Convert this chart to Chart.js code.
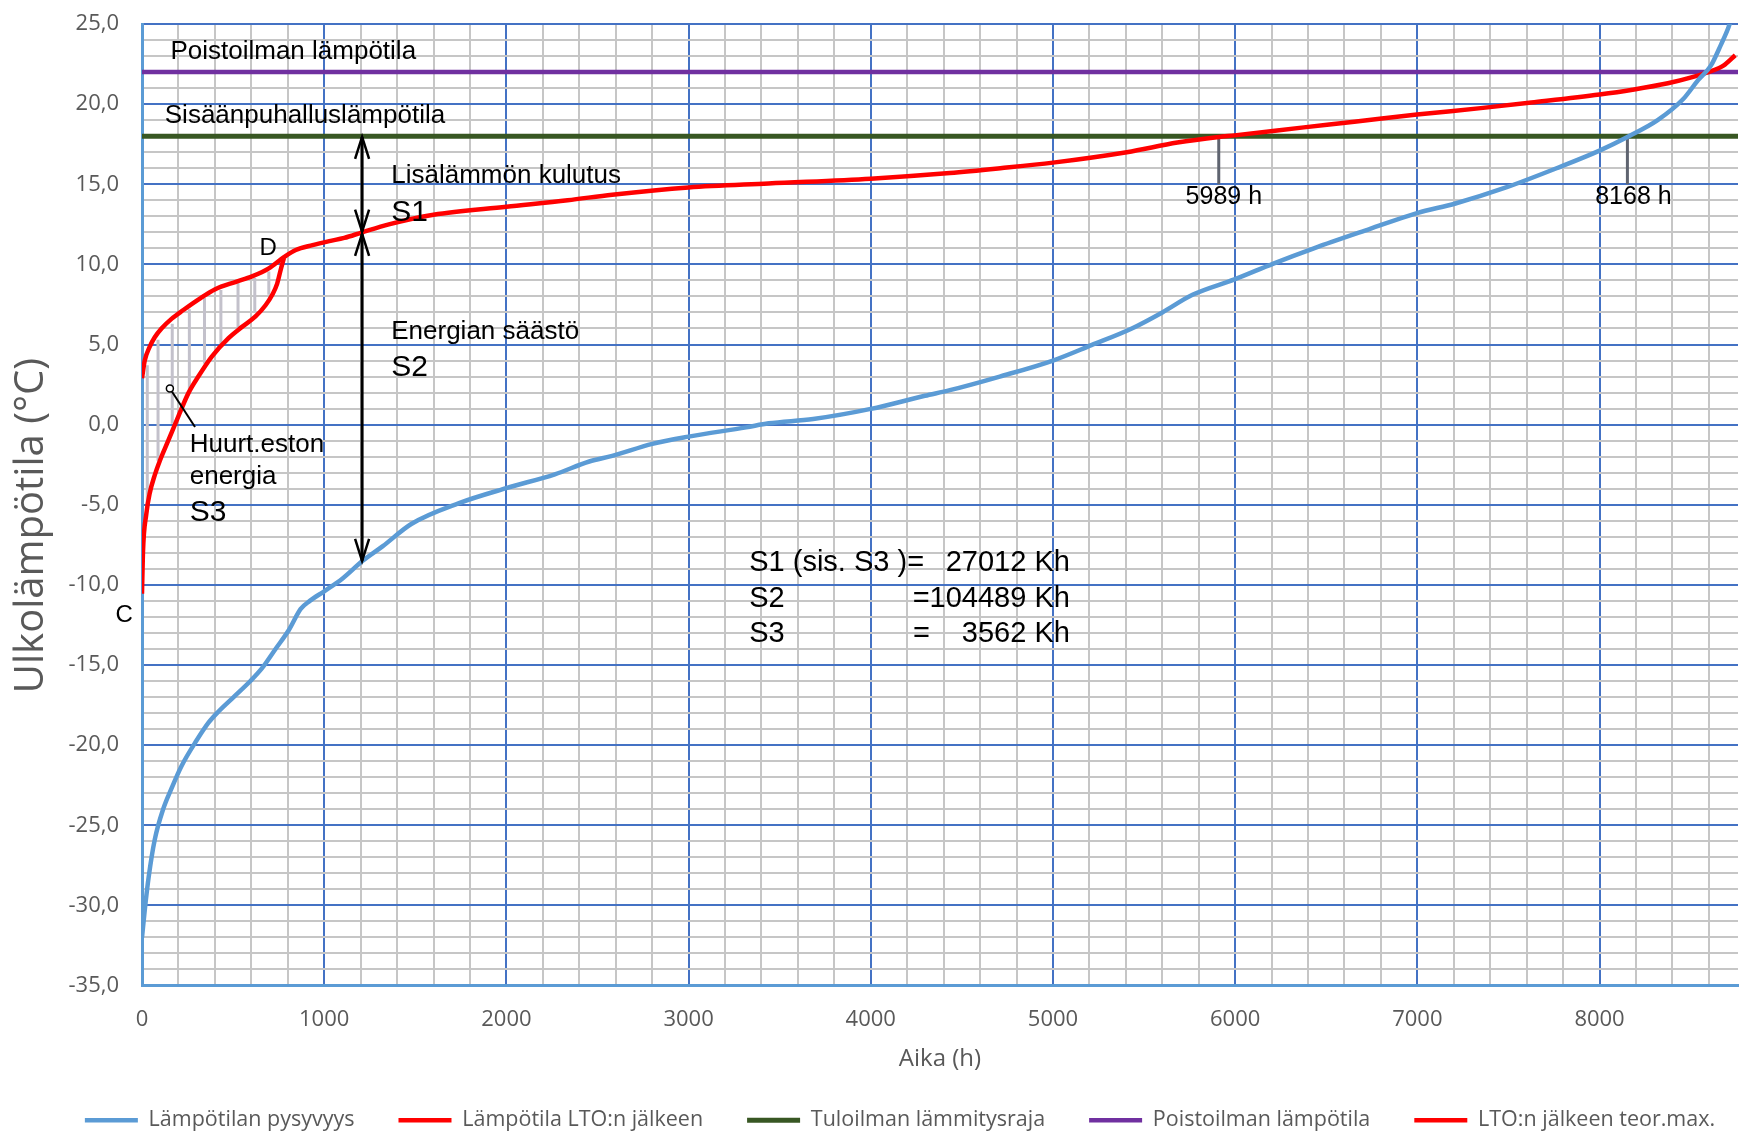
<!DOCTYPE html>
<html lang="fi">
<head>
<meta charset="utf-8">
<title>Lämpötilan pysyvyys</title>
<script src="https://cdn.jsdelivr.net/npm/chart.js@4.4.1/dist/chart.umd.min.js"></script>
<style>
  html, body { margin: 0; padding: 0; background: #fff; }
  #kaavio { display: block; }
</style>
</head>
<body>
<canvas id="kaavio" width="1742" height="1136"></canvas>
<script>
// Lämpötilan pysyvyys (h, °C)
var pysyvyysAika = [0, 15, 37, 70, 116, 162, 217, 300, 365, 420, 503, 595, 659, 733, 807, 871, 921, 1000, 1101, 1211,
    1320, 1478, 1740, 2004, 2266, 2455, 2581, 2801, 3000, 3316, 3439, 3684, 4000, 4297, 4434, 4708, 5000, 5211, 5433,
    5600, 5766, 5996, 6210, 6432, 6737, 6998, 7209, 7487, 7764, 8000, 8153, 8319, 8458, 8541, 8611, 8666, 8708, 8725];
var pysyvyysLampo = [-32.0, -30.3, -28.2, -25.9, -24.0, -22.7, -21.3, -19.7, -18.6, -17.9, -17.0, -16.0, -15.2, -14.0,
    -12.8, -11.5, -11.0, -10.4, -9.6, -8.5, -7.6, -6.2, -4.9, -3.95, -3.1, -2.3, -1.95, -1.2, -0.75, -0.17, 0.08, 0.35,
    0.98, 1.8, 2.15, 3.0, 4.0, 4.96, 6.0, 7.0, 8.1, 9.06, 10.05, 11.0, 12.2, 13.2, 13.8, 14.8, 16.0, 17.1, 17.95, 19.0,
    20.3, 21.5, 22.4, 23.7, 24.8, 25.4];

// Lämpötila LTO:n jälkeen
var ltoAika = [0, 15, 42, 70, 107, 162, 227, 309, 402, 512, 604, 696, 779, 844, 936, 1028, 1110, 1208, 1355, 1600,
    2000, 2336, 2581, 3000, 3439, 4000, 4434, 4711, 5000, 5405, 5683, 5910, 5996, 6377, 6654, 6998, 7348, 7626, 8000,
    8181, 8375, 8514, 8597, 8680, 8745];
var ltoLampo = [2.9, 4.0, 4.85, 5.45, 6.0, 6.6, 7.15, 7.8, 8.45, 8.9, 9.25, 9.75, 10.45, 10.9, 11.2, 11.45, 11.65, 12.0,
    12.5, 13.1, 13.6, 14.0, 14.35, 14.8, 15.05, 15.35, 15.7, 16.0, 16.35, 17.0, 17.6, 17.95, 18.05, 18.55, 18.9, 19.35,
    19.75, 20.1, 20.6, 20.9, 21.3, 21.7, 22.0, 22.4, 23.05];

// LTO:n jälkeen teor.max. (C -> D)
var teorAika = [0, 5, 24, 42, 70, 98, 144, 199, 254, 309, 383, 475, 549, 623, 678, 715, 742, 761, 779];
var teorLampo = [-10.55, -8.05, -5.55, -4.3, -3.15, -2.25, -1.0, 0.5, 1.95, 3.0, 4.25, 5.4, 6.1, 6.75, 7.45, 8.1,
    8.8, 9.65, 10.4];

// vaakaviivat
var vuodenTunnit = [0, 8760];
var tuloilmaRaja = [18, 18];
var poistoilma = [22, 22];

// huurteenestoalueen viivoitus
var viivaAika = [29, 88, 166, 260, 343, 433, 527, 619, 696];
var viivaYla = [3.7, 5.3, 6.3, 7.2, 7.9, 8.4, 8.85, 9.15, 9.55];
var viivaAla = [-5.15, -2.25, 0.05, 2.15, 3.8, 4.95, 6.0, 7.05, 8.1];

function pisteet(xs, ys) {
    return xs.map(function (x, i) { return { x: x, y: ys[i] }; });
}

var viivoitus = [];
viivaAika.forEach(function (x, i) {
    viivoitus.push({ x: x, y: viivaYla[i] });
    viivoitus.push({ x: x, y: viivaAla[i] });
    viivoitus.push({ x: x, y: null });
});

var ARIAL = '"Liberation Sans", Arial, sans-serif';
var KIRJAIN = '"Open Sans", sans-serif';

var tekstit = [
    { t: 'Poistoilman lämpötila', x: 156, y: 23.28, koko: 26 },
    { t: 'Sisäänpuhalluslämpötila', x: 125, y: 19.3, koko: 26 },
    { t: 'Lisälämmön kulutus', x: 1368, y: 15.54, koko: 26 },
    { t: 'S1', x: 1368, y: 13.2, koko: 30 },
    { t: 'Energian säästö', x: 1368, y: 5.82, koko: 26 },
    { t: 'S2', x: 1368, y: 3.53, koko: 30 },
    { t: 'Huurt.eston', x: 262, y: -1.26, koko: 26 },
    { t: 'energia', x: 262, y: -3.23, koko: 26 },
    { t: 'S3', x: 262, y: -5.52, koko: 30 },
    { t: 'D', x: 692, y: 11.0, koko: 24, tasaus: 'center' },
    { t: 'C', x: -98, y: -11.9, koko: 24, tasaus: 'center' },
    { t: '5989 h', x: 5938, y: 14.17, koko: 25, tasaus: 'center' },
    { t: '8168 h', x: 8186, y: 14.17, koko: 25, tasaus: 'center' },
    { t: 'S1 (sis. S3 )=', x: 3333, y: -8.64, koko: 29 },
    { t: '27012 Kh', x: 5093, y: -8.64, koko: 29, tasaus: 'right' },
    { t: 'S2', x: 3333, y: -10.86, koko: 29 },
    { t: '=104489 Kh', x: 5093, y: -10.86, koko: 29, tasaus: 'right' },
    { t: 'S3', x: 3333, y: -13.08, koko: 29 },
    { t: '=', x: 4232, y: -13.08, koko: 29 },
    { t: '3562 Kh', x: 5093, y: -13.08, koko: 29, tasaus: 'right' }
];

function nuolenKarki(ctx, x, y, suunta) {
    // suunta -1 = ylös, 1 = alas
    ctx.beginPath();
    ctx.moveTo(x - 7, y - suunta * 22);
    ctx.lineTo(x, y);
    ctx.lineTo(x + 7, y - suunta * 22);
    ctx.stroke();
}

var merkinnat = {
    id: 'merkinnat',
    afterLayout: function (chart) {
        // legenda hieman alemmas ja oikealle kuten alkuperäisessä
        chart.legend.top += 5;
        chart.legend.bottom += 5;
        chart.legend.left += 31;
        chart.legend.right += 31;
    },
    beforeDatasetsDraw: function (chart) {
        var ctx = chart.ctx, sx = chart.scales.x, sy = chart.scales.y;
        ctx.save();
        ctx.strokeStyle = '#5F6470';
        ctx.lineWidth = 3;
        [5910, 8153].forEach(function (h) {
            ctx.beginPath();
            ctx.moveTo(sx.getPixelForValue(h), sy.getPixelForValue(18));
            ctx.lineTo(sx.getPixelForValue(h), sy.getPixelForValue(15));
            ctx.stroke();
        });
        ctx.restore();
    },
    afterDatasetsDraw: function (chart) {
        var ctx = chart.ctx, sx = chart.scales.x, sy = chart.scales.y;
        ctx.save();
        ctx.strokeStyle = '#000';
        ctx.lineWidth = 3;
        var ax = sx.getPixelForValue(1208);
        var y18 = sy.getPixelForValue(17.95);
        var yMid1 = sy.getPixelForValue(12.05);
        var yMid2 = sy.getPixelForValue(11.9);
        var yAla = sy.getPixelForValue(-8.5);
        ctx.beginPath();
        ctx.moveTo(ax, y18); ctx.lineTo(ax, yMid1);
        ctx.moveTo(ax, yMid2); ctx.lineTo(ax, yAla);
        ctx.stroke();
        ctx.lineWidth = 2.5;
        nuolenKarki(ctx, ax, y18, -1);
        nuolenKarki(ctx, ax, yMid1, 1);
        nuolenKarki(ctx, ax, yMid2, -1);
        nuolenKarki(ctx, ax, yAla, 1);

        // huurteneston osoitin
        var cx = sx.getPixelForValue(153), cy = sy.getPixelForValue(2.25);
        ctx.lineWidth = 2;
        ctx.beginPath();
        ctx.moveTo(cx + 2, cy + 3);
        ctx.lineTo(sx.getPixelForValue(291), sy.getPixelForValue(-0.15));
        ctx.stroke();
        ctx.beginPath();
        ctx.arc(cx, cy, 3.5, 0, Math.PI * 2);
        ctx.fillStyle = '#fff';
        ctx.fill();
        ctx.lineWidth = 1.5;
        ctx.stroke();

        ctx.fillStyle = '#000';
        ctx.textBaseline = 'middle';
        tekstit.forEach(function (m) {
            ctx.font = m.koko + 'px ' + ARIAL;
            ctx.textAlign = m.tasaus || 'left';
            ctx.fillText(m.t, sx.getPixelForValue(m.x), sy.getPixelForValue(m.y));
        });
        ctx.restore();
    }
};

function onPaa(v, askel) {
    return Math.abs(v % askel) < 1e-6;
}

var data = {
    datasets: [
        { label: 'Lämpötilan pysyvyys', data: pisteet(pysyvyysAika, pysyvyysLampo), borderColor: '#5B9BD5',
          backgroundColor: '#5B9BD5', borderWidth: 4.5, cubicInterpolationMode: 'monotone' },
        { label: 'Lämpötila LTO:n jälkeen', data: pisteet(ltoAika, ltoLampo), borderColor: '#FF0000',
          backgroundColor: '#FF0000', borderWidth: 4.5, cubicInterpolationMode: 'monotone' },
        { label: 'Tuloilman lämmitysraja', data: pisteet(vuodenTunnit, tuloilmaRaja), borderColor: '#385723',
          backgroundColor: '#385723', borderWidth: 5 },
        { label: 'Poistoilman lämpötila', data: pisteet(vuodenTunnit, poistoilma), borderColor: '#7030A0',
          backgroundColor: '#7030A0', borderWidth: 4.5 },
        { label: 'LTO:n jälkeen teor.max.', data: pisteet(teorAika, teorLampo), borderColor: '#FF0000',
          backgroundColor: '#FF0000', borderWidth: 4.5, cubicInterpolationMode: 'monotone' },
        { label: 'viivoitus', data: viivoitus, borderColor: '#C3C1CB', borderWidth: 3, spanGaps: false }
    ]
};

var kaavio = new Chart(document.getElementById('kaavio'), {
    type: 'line',
    data: data,
    plugins: [merkinnat],
    options: {
        responsive: false,
        animation: false,
        events: [],
        layout: { padding: { top: 24, right: 4, left: 0, bottom: 0 } },
        elements: { point: { radius: 0 }, line: { tension: 0 } },
        plugins: {
            tooltip: { enabled: false },
            legend: {
                position: 'bottom',
                labels: {
                    usePointStyle: true,
                    pointStyle: 'line',
                    pointStyleWidth: 53,
                    padding: 44,
                    color: '#595959',
                    font: { family: KIRJAIN, size: 21.5 },
                    filter: function (item) { return item.datasetIndex < 5; }
                }
            }
        },
        scales: {
            x: {
                type: 'linear',
                min: 0,
                max: 8760,
                afterBuildTicks: function (s) {
                    // apuviivat 200 h välein
                    var t = [];
                    for (var v = 0; v < 8760; v += 200) t.push({ value: v });
                    s.ticks = t;
                },
                afterFit: function (s) { s.height = 75; },
                ticks: {
                    autoSkip: false,
                    maxRotation: 0,
                    padding: 21,
                    color: '#595959',
                    font: { family: KIRJAIN, size: 22 },
                    callback: function (v) { return onPaa(v, 1000) ? String(v) : ''; }
                },
                grid: {
                    drawTicks: false,
                    lineWidth: 2,
                    color: function (c) { return c.tick && onPaa(c.tick.value, 1000) ? '#4472C4' : '#C6C6C6'; }
                },
                border: { color: '#5B9BD5', width: 3 },
                title: {
                    display: true,
                    text: 'Aika (h)',
                    color: '#595959',
                    font: { family: KIRJAIN, size: 24 },
                    padding: { top: 0, bottom: -13 }
                }
            },
            y: {
                type: 'linear',
                min: -35,
                max: 25,
                afterFit: function (s) {
                    s.width = 142;
                    s.paddingTop = 0;
                    s.paddingBottom = 0;
                },
                ticks: {
                    stepSize: 1,
                    autoSkip: false,
                    padding: 23,
                    color: '#595959',
                    font: { family: KIRJAIN, size: 22 },
                    callback: function (v) { return onPaa(v, 5) ? v.toFixed(1).replace('.', ',') : ''; }
                },
                grid: {
                    drawTicks: false,
                    lineWidth: 2,
                    color: function (c) { return c.tick && onPaa(c.tick.value, 5) ? '#4472C4' : '#C6C6C6'; }
                },
                border: { color: '#5B9BD5', width: 3 },
                title: {
                    display: true,
                    // perässä välilyönnit: otsikko hieman alemmas
                    text: 'Ulkolämpötila (°C)    ',
                    color: '#595959',
                    font: { family: KIRJAIN, size: 40 },
                    padding: { top: 8, bottom: 0 }
                }
            }
        }
    }
});
</script>
</body>
</html>
